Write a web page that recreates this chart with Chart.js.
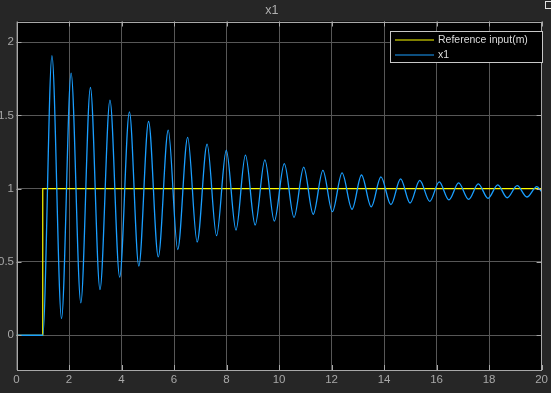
<!DOCTYPE html>
<html>
<head>
<meta charset="utf-8">
<script src="https://cdn.jsdelivr.net/npm/chart.js@4.4.1/dist/chart.umd.min.js"></script>
<style>
  html, body { margin: 0; padding: 0; background: #262626; }
  #wrap { width: 551px; height: 393px; position: relative; }
</style>
</head>
<body>
<div id="wrap"><canvas id="scope"></canvas></div>
<script>
// Step reference (yellow)
const refTime  = [0, 1, 1, 20];
const refValue = [0, 0, 1, 1];

const x1Time = [0, 1.0,
    1.35, 1.715, 2.08, 2.45, 2.815, 3.18, 3.56, 3.93, 4.30, 4.66,
    5.03, 5.40, 5.78, 6.14, 6.52, 6.88, 7.26, 7.62, 7.99, 8.36,
    8.72, 9.09, 9.46, 9.82, 10.20, 10.57, 10.94, 11.30, 11.67, 12.03,
    12.40, 12.78, 13.14, 13.51, 13.88, 14.26, 14.63, 14.99, 15.36, 15.74,
    16.10, 16.47, 16.84, 17.22, 17.59, 17.96, 18.33, 18.69, 19.07, 19.44,
    19.82, 20.0];
const x1Value = [0, 0,
    1.907, 0.114, 1.788, 0.221, 1.690, 0.312, 1.604, 0.396, 1.524, 0.472,
    1.458, 0.535, 1.399, 0.585, 1.349, 0.636, 1.303, 0.679, 1.262, 0.718,
    1.228, 0.752, 1.196, 0.779, 1.171, 0.804, 1.147, 0.825, 1.125, 0.843,
    1.107, 0.859, 1.093, 0.875, 1.080, 0.891, 1.066, 0.902, 1.057, 0.913,
    1.046, 0.923, 1.039, 0.927, 1.032, 0.934, 1.025, 0.938, 1.020, 0.943,
    1.014, 0.98];

const xTicks = [0, 2, 4, 6, 8, 10, 12, 14, 16, 18, 20];
const yTicks = [0, 0.5, 1, 1.5, 2];
const seriesLabels = ['Reference input(m)', 'x1'];
const plotTitle = 'x1';

const BG = '#262626';
const AXIS = '#a8a8a8';
const FONT = "'Liberation Sans', Arial, sans-serif";

function toPoints(xs, ys) {
    return xs.map((x, i) => ({ x: x, y: ys[i] }));
}

// black plot area + dark figure background
const scopeBackground = {
    id: 'scopeBackground',
    beforeDraw(chart) {
        const { ctx, chartArea: a } = chart;
        ctx.save();
        ctx.fillStyle = BG;
        ctx.fillRect(0, 0, chart.width, chart.height);
        ctx.fillStyle = '#000';
        ctx.fillRect(a.left, a.top, a.right - a.left, a.bottom - a.top);
        ctx.restore();
    }
};

// axes box, inward ticks, legend, little undock icon
const scopeFrame = {
    id: 'scopeFrame',
    afterDraw(chart) {
        const { ctx, chartArea: a, scales } = chart;
        ctx.save();
        ctx.strokeStyle = AXIS;
        ctx.lineWidth = 1;
        ctx.strokeRect(Math.round(a.left) + 0.5, Math.round(a.top) + 0.5,
            Math.round(a.right - a.left) - 1, Math.round(a.bottom - a.top) - 1);

        ctx.beginPath();
        xTicks.forEach(v => {
            const px = Math.round(scales.x.getPixelForValue(v)) + 0.5;
            ctx.moveTo(px, a.bottom); ctx.lineTo(px, a.bottom - 5);
            ctx.moveTo(px, a.top); ctx.lineTo(px, a.top + 5);
        });
        yTicks.forEach(v => {
            const py = Math.round(scales.y.getPixelForValue(v)) + 0.5;
            ctx.moveTo(a.left, py); ctx.lineTo(a.left + 5, py);
            ctx.moveTo(a.right, py); ctx.lineTo(a.right - 5, py);
        });
        ctx.stroke();

        // legend box
        const lx = 390.5, ly = 31.5, lw = 152, lh = 31;
        ctx.fillStyle = '#000';
        ctx.fillRect(lx, ly, lw, lh);
        ctx.strokeStyle = '#c8c8c8';
        ctx.strokeRect(lx, ly, lw, lh);
        ctx.font = '10.5px ' + FONT;
        ctx.textBaseline = 'middle';
        chart.data.datasets.forEach((ds, i) => {
            const y = 40 + i * 15;
            ctx.strokeStyle = ds.borderColor;
            ctx.lineWidth = 1;
            ctx.beginPath();
            ctx.moveTo(395, y); ctx.lineTo(434, y);
            ctx.stroke();
            ctx.fillStyle = '#dcdcdc';
            ctx.fillText(ds.label, 438, y);
        });

        // undock icon in the corner
        ctx.strokeStyle = '#e0e0e0';
        ctx.strokeRect(545.5, 1.5, 6, 7);
        ctx.restore();
    }
};

const datasets = [
    {
        label: seriesLabels[0],
        data: toPoints(refTime, refValue),
        borderColor: '#ffff00',
        borderWidth: 1.2,
        tension: 0,
        order: 1
    },
    {
        label: seriesLabels[1],
        data: toPoints(x1Time, x1Value),
        borderColor: '#1a9fff',
        borderWidth: 1.3,
        cubicInterpolationMode: 'monotone',
        order: 0
    }
];

new Chart(document.getElementById('scope'), {
    type: 'line',
    data: { datasets: datasets },
    options: {
        responsive: true,
        maintainAspectRatio: false,
        animation: false,
        events: [],
        layout: { padding: { left: 0, right: 7.5, top: 0, bottom: 0 } },
        elements: { point: { radius: 0 } },
        scales: {
            x: {
                type: 'linear',
                min: 0,
                max: 20,
                afterBuildTicks: s => { s.ticks = xTicks.map(v => ({ value: v })); },
                afterFit: s => { s.height = 23; },
                ticks: {
                    color: AXIS,
                    font: { family: FONT, size: 11.5 },
                    padding: 3,
                    autoSkip: false,
                    maxRotation: 0,
                    callback: v => String(v)
                },
                grid: { color: '#575757', drawTicks: false },
                border: { display: false }
            },
            y: {
                type: 'linear',
                min: -0.237,
                max: 2.14,
                afterBuildTicks: s => { s.ticks = yTicks.map(v => ({ value: v })); },
                afterFit: s => { s.width = 16.5; },
                ticks: {
                    color: AXIS,
                    font: { family: FONT, size: 11.5 },
                    padding: 2.5,
                    autoSkip: false,
                    callback: v => String(v)
                },
                grid: { color: '#575757', drawTicks: false },
                border: { display: false }
            }
        },
        plugins: {
            legend: { display: false },
            tooltip: { enabled: false },
            title: {
                display: true,
                text: plotTitle,
                color: '#b0b0b0',
                font: { family: FONT, size: 12.5, weight: 'normal' },
                padding: { top: 3.5, bottom: 3 }
            }
        }
    },
    plugins: [scopeBackground, scopeFrame]
});
</script>
</body>
</html>
